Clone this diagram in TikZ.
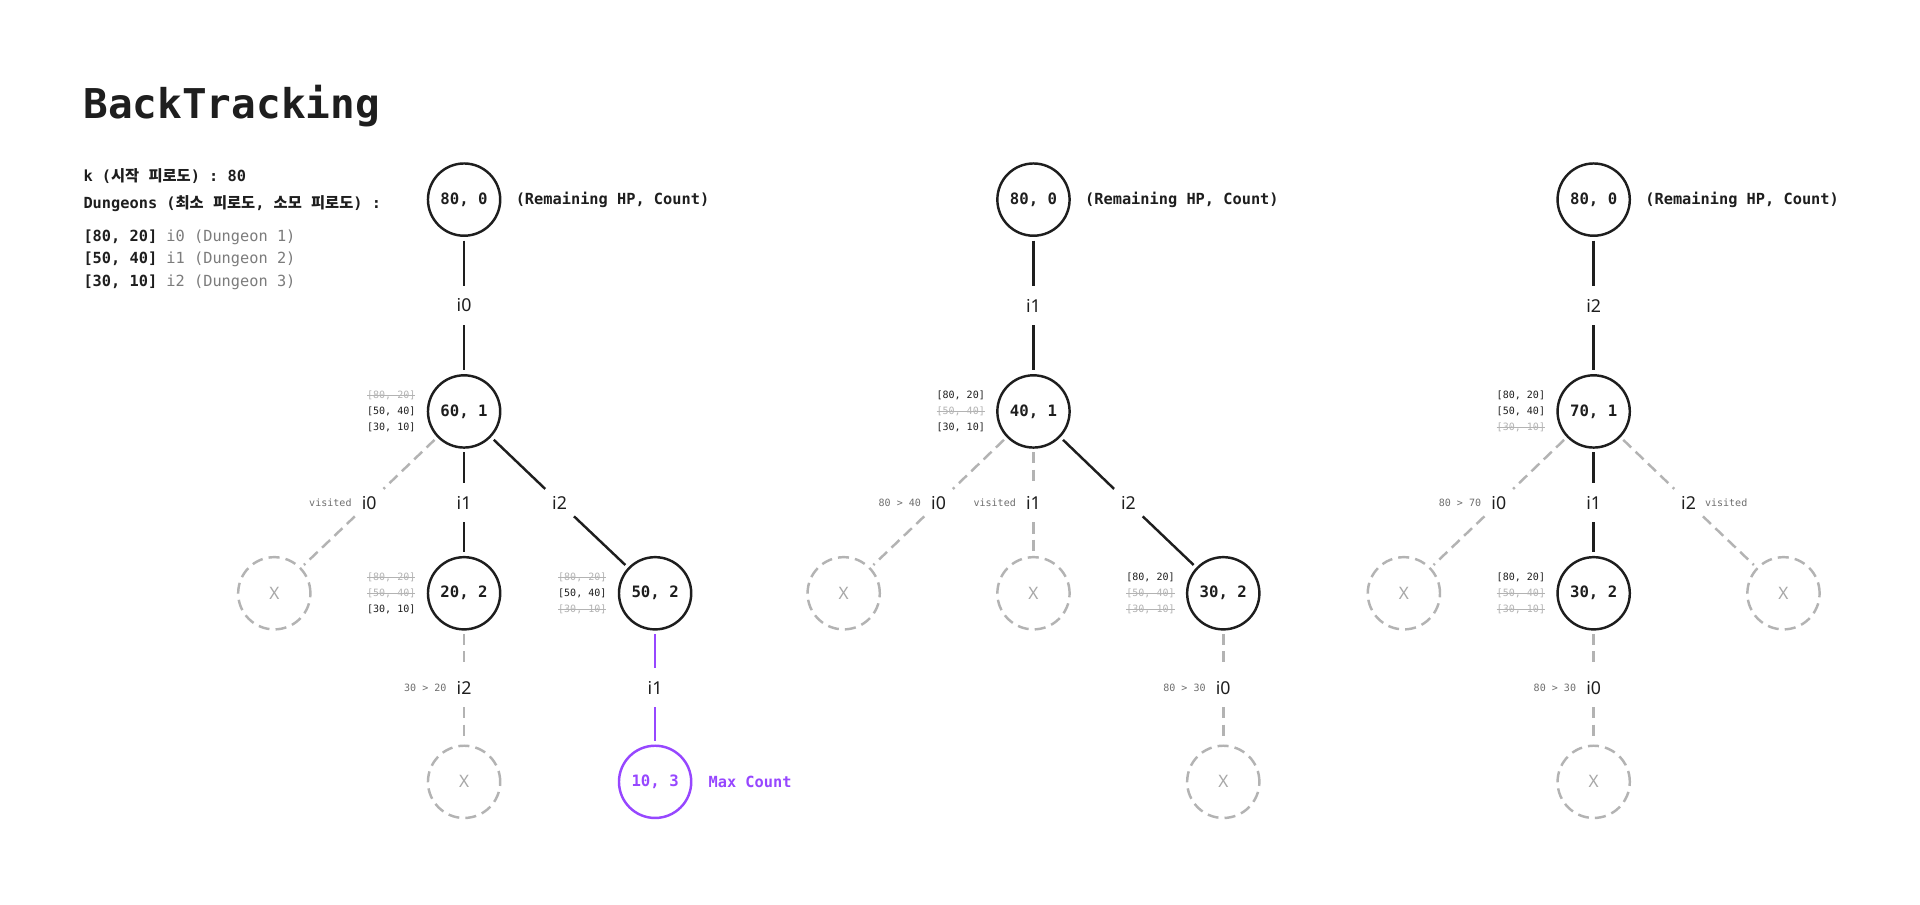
\documentclass[tikz,border=0pt]{standalone}
\usepackage{fontspec}
\setmainfont{Noto Sans}
\setmonofont{DejaVu Sans Mono}
\newfontfamily\kr{Noto Sans CJK KR}
\definecolor{ink}{HTML}{1E1E1E}
\definecolor{lgray}{HTML}{B3B3B3}
\definecolor{xgray}{HTML}{A8A8A8}
\definecolor{ngray}{HTML}{6E6E6E}
\definecolor{hgray}{HTML}{7C7C7C}
\definecolor{vio}{HTML}{9747FF}
\newsavebox\strikebox
\newcommand\on[1]{\textcolor{ink}{#1}}
\newcommand\off[1]{\sbox\strikebox{\textcolor{lgray}{#1}}\rlap{\usebox\strikebox}\textcolor{lgray}{\rule[0.3em]{\wd\strikebox}{0.6pt}}}
\newcommand\dlist[3]{#1{[80, 20]}\\#2{[50, 40]}\\#3{[30, 10]}}
\tikzset{
  st/.style={circle, draw=ink, line width=2pt, minimum size=59pt, inner sep=0pt,
    font=\ttfamily\bfseries\fontsize{12.8}{15}\selectfont, text=ink},
  xn/.style={circle, draw=lgray, line width=2pt, dash pattern=on 9pt off 5pt,
    minimum size=59pt, inner sep=0pt, font=\fontsize{14}{16}\selectfont, text=xgray},
  pn/.style={st, draw=vio, text=vio},
  lab/.style={circle, minimum size=26pt, inner sep=0pt, font=\fontsize{14.5}{16}\selectfont, text=ink},
  sedge/.style={draw=ink, line width=2pt, shorten <=3pt, shorten >=3pt},
  dedge/.style={draw=lgray, line width=2pt, dash pattern=on 9pt off 5pt, shorten <=3pt, shorten >=3pt},
  pedge/.style={sedge, draw=vio},
  note/.style={font=\ttfamily\fontsize{8.2}{10}\selectfont, text=ngray, inner sep=0pt},
  notel/.style={note, anchor=east},
  noter/.style={note, anchor=west},
  dl/.style={font=\ttfamily\fontsize{8.2}{13}\selectfont, align=right, anchor=east, inner sep=0pt},
  hdr/.style={font=\ttfamily\bfseries\fontsize{12.5}{14}\selectfont, text=ink, anchor=base west, inner sep=0pt},
  side/.style={font=\ttfamily\bfseries\fontsize{12.5}{15}\selectfont, text=ink, anchor=west, inner sep=0pt},
}
\begin{document}
\begin{tikzpicture}[x=1pt,y=-1pt]
\path[use as bounding box, fill=white] (0,0) rectangle (1568,739);

% title and header
\node[anchor=base west, inner sep=0pt, font=\ttfamily\bfseries\fontsize{33.5}{40}\selectfont, text=ink] (title) at (68,97) {BackTracking};
\node[hdr] (h1) at (68,148) {k ({\kr 시작} {\kr 피로도}) : 80};
\node[hdr] (h2) at (68,170.5) {Dungeons ({\kr 최소} {\kr 피로도}, {\kr 소모} {\kr 피로도}) :};
\node[hdr] (h3) at (68,197) {[80, 20] \textcolor{hgray}{\mdseries i0 (Dungeon 1)}};
\node[hdr] (h4) at (68,215.5) {[50, 40] \textcolor{hgray}{\mdseries i1 (Dungeon 2)}};
\node[hdr] (h5) at (68,234) {[30, 10] \textcolor{hgray}{\mdseries i2 (Dungeon 3)}};

% ---------------- tree 1
\node[st] (a0) at (379,163) {80, 0};
\node[side] (a0t) at ([xshift=11.5pt]a0.east) {(Remaining HP, Count)};
\node[lab] (a0l) at (379,249.5) {i0};
\node[st] (a1) at (379,336) {60, 1};
\node[dl] (a1d) at ([xshift=-9pt]a1.west) {\dlist\off\on\on};
\node[lab] (a1l0) at (301.5,410.5) {i0};
\node[notel] (a1n0) at ([xshift=-1pt]a1l0.west) {visited};
\node[lab] (a1l1) at (379,410.5) {i1};
\node[lab] (a1l2) at (457,410.5) {i2};
\node[xn] (a1x) at (224,484.5) {X};
\node[st] (a2) at (379,484.5) {20, 2};
\node[dl] (a2d) at ([xshift=-9pt]a2.west) {\dlist\off\off\on};
\node[st] (a3) at (535,484.5) {50, 2};
\node[dl] (a3d) at ([xshift=-9pt]a3.west) {\dlist\off\on\off};
\node[lab] (a2l) at (379,561.5) {i2};
\node[notel] (a2n) at ([xshift=-1pt]a2l.west) {30 > 20};
\node[xn] (a2x) at (379,638.5) {X};
\node[lab] (a3l) at (535,561.5) {i1};
\node[pn] (a3p) at (535,638.5) {10, 3};
\node[side, text=vio] (a3t) at ([xshift=13pt]a3p.east) {Max Count};

\draw[sedge] (a0) -- (a0l);
\draw[sedge] (a0l) -- (a1);
\draw[sedge] (a1) -- (a1l1);
\draw[sedge] (a1l1) -- (a2);
\draw[sedge] (a1) -- (a1l2);
\draw[sedge] (a1l2) -- (a3);
\draw[dedge] (a1) -- (a1l0);
\draw[dedge] (a1l0) -- (a1x);
\draw[dedge] (a2) -- (a2l);
\draw[dedge] (a2l) -- (a2x);
\draw[pedge] (a3) -- (a3l);
\draw[pedge] (a3l) -- (a3p);

% ---------------- tree 2
\node[st] (b0) at (844,163) {80, 0};
\node[side] (b0t) at ([xshift=11.5pt]b0.east) {(Remaining HP, Count)};
\node[lab] (b0l) at (844,249.5) {i1};
\node[st] (b1) at (844,336) {40, 1};
\node[dl] (b1d) at ([xshift=-9pt]b1.west) {\dlist\on\off\on};
\node[lab] (b1l0) at (766.5,410.5) {i0};
\node[notel] (b1n0) at ([xshift=-1pt]b1l0.west) {80 > 40};
\node[lab] (b1l1) at (844,410.5) {i1};
\node[notel] (b1n1) at ([xshift=-1pt]b1l1.west) {visited};
\node[lab] (b1l2) at (921.5,410.5) {i2};
\node[xn] (b1x0) at (689,484.5) {X};
\node[xn] (b1x1) at (844,484.5) {X};
\node[st] (b2) at (999,484.5) {30, 2};
\node[dl] (b2d) at ([xshift=-9pt]b2.west) {\dlist\on\off\off};
\node[lab] (b2l) at (999,561.5) {i0};
\node[notel] (b2n) at ([xshift=-1pt]b2l.west) {80 > 30};
\node[xn] (b2x) at (999,638.5) {X};

\draw[sedge] (b0) -- (b0l);
\draw[sedge] (b0l) -- (b1);
\draw[sedge] (b1) -- (b1l2);
\draw[sedge] (b1l2) -- (b2);
\draw[dedge] (b1) -- (b1l0);
\draw[dedge] (b1l0) -- (b1x0);
\draw[dedge] (b1) -- (b1l1);
\draw[dedge] (b1l1) -- (b1x1);
\draw[dedge] (b2) -- (b2l);
\draw[dedge] (b2l) -- (b2x);

% ---------------- tree 3
\node[st] (c0) at (1301.5,163) {80, 0};
\node[side] (c0t) at ([xshift=11.5pt]c0.east) {(Remaining HP, Count)};
\node[lab] (c0l) at (1301.5,249.5) {i2};
\node[st] (c1) at (1301.5,336) {70, 1};
\node[dl] (c1d) at ([xshift=-9pt]c1.west) {\dlist\on\on\off};
\node[lab] (c1l0) at (1224,410.5) {i0};
\node[notel] (c1n0) at ([xshift=-1pt]c1l0.west) {80 > 70};
\node[lab] (c1l1) at (1301.5,410.5) {i1};
\node[lab] (c1l2) at (1379,410.5) {i2};
\node[noter] (c1n2) at ([xshift=0pt]c1l2.east) {visited};
\node[xn] (c1x0) at (1146.5,484.5) {X};
\node[xn] (c1x2) at (1456.5,484.5) {X};
\node[st] (c2) at (1301.5,484.5) {30, 2};
\node[dl] (c2d) at ([xshift=-9pt]c2.west) {\dlist\on\off\off};
\node[lab] (c2l) at (1301.5,561.5) {i0};
\node[notel] (c2n) at ([xshift=-1pt]c2l.west) {80 > 30};
\node[xn] (c2x) at (1301.5,638.5) {X};

\draw[sedge] (c0) -- (c0l);
\draw[sedge] (c0l) -- (c1);
\draw[sedge] (c1) -- (c1l1);
\draw[sedge] (c1l1) -- (c2);
\draw[dedge] (c1) -- (c1l0);
\draw[dedge] (c1l0) -- (c1x0);
\draw[dedge] (c1) -- (c1l2);
\draw[dedge] (c1l2) -- (c1x2);
\draw[dedge] (c2) -- (c2l);
\draw[dedge] (c2l) -- (c2x);
\end{tikzpicture}
\end{document}
